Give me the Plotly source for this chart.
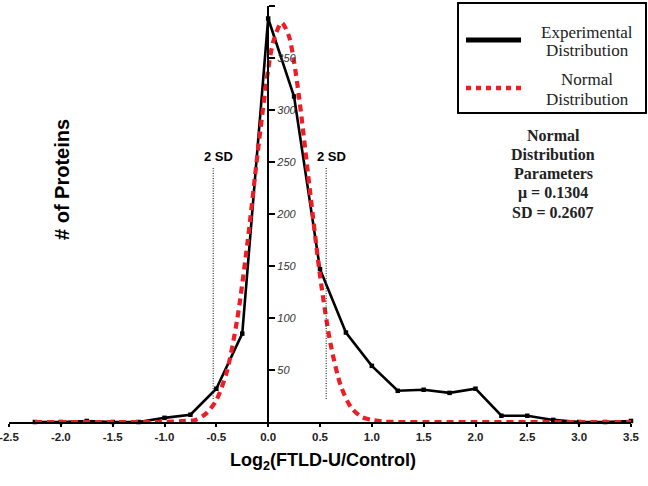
import plotly.graph_objects as go

# experimental distribution, bin centres every 0.25 log2 units
exp_x = [-2.25, -2.0, -1.75, -1.5, -1.25, -1.0, -0.75, -0.5, -0.25, 0.0, 0.25, 0.5,
         0.75, 1.0, 1.25, 1.5, 1.75, 2.0, 2.25, 2.5, 2.75, 3.0, 3.25, 3.5]
exp_counts = [0, 0, 1, 0, 0, 4, 7, 32, 85, 388, 313, 147,
              86, 54, 30, 31, 28, 32, 6, 6, 2, 0, 0, 1]

# fitted normal curve
norm_x = [-2.25, -1.5, -1.0, -0.8, -0.7, -0.6, -0.5, -0.4, -0.3, -0.2, -0.1, 0.0, 0.05,
          0.13, 0.2, 0.25, 0.3, 0.4, 0.5, 0.6, 0.7, 0.8, 0.9, 1.0, 1.1, 1.25, 2.0, 3.0, 3.5]
norm_counts = [0, 0, 0, 1, 2, 8, 21, 48, 98, 172, 260, 339, 366,
               384, 371, 346, 311, 225, 141, 76, 35, 14, 5, 2, 0.5, 0, 0, 0, 0]

mu = 0.1304
sd = 0.2607

# the two "2 SD" marker lines
sd_marks = [-0.53, 0.56]
sd_mark_top = 245
sd_mark_bottom = 22

x_ticks = [-2.5, -2.0, -1.5, -1.0, -0.5, 0.0, 0.5, 1.0, 1.5, 2.0, 2.5, 3.0, 3.5]
y_ticks = [50, 100, 150, 200, 250, 300, 350, 400]

W, H = 648, 486
L, R, T, B = 9, 17, 6, 64


def px(x):
    # pixel -> paper x
    return (x - L) / (W - L - R)


def py(y):
    # pixel -> paper y
    return (H - B - y) / (H - T - B)


fig = go.Figure()

fig.add_trace(go.Scatter(
    x=exp_x, y=exp_counts, mode='lines+markers',
    line=dict(color='black', width=2.6),
    marker=dict(symbol='square', size=4.5, color='black'),
    cliponaxis=False, showlegend=False))

fig.add_trace(go.Scatter(
    x=norm_x, y=norm_counts, mode='lines',
    line=dict(color='#ee1c24', width=4.2, dash='7px,5px', shape='spline', smoothing=0.8),
    cliponaxis=False, showlegend=False))

shapes = []
annotations = []

for xm in sd_marks:
    shapes.append(dict(type='line', xref='x', yref='y', x0=xm, x1=xm,
                       y0=sd_mark_bottom, y1=sd_mark_top,
                       line=dict(color='#333333', width=1.2, dash='1px,1.5px')))
    annotations.append(dict(x=xm + 0.05, y=sd_mark_top + 10, xref='x', yref='y',
                            text='<b>2 SD</b>', showarrow=False, yanchor='middle',
                            font=dict(family='Arial', size=13, color='black')))

# legend box drawn by hand
shapes.append(dict(type='rect', xref='paper', yref='paper',
                   x0=px(458), x1=px(646), y0=py(113), y1=py(3),
                   line=dict(color='black', width=2)))
shapes.append(dict(type='line', xref='paper', yref='paper',
                   x0=px(466), x1=px(521), y0=py(40), y1=py(40),
                   line=dict(color='black', width=5)))
shapes.append(dict(type='line', xref='paper', yref='paper',
                   x0=px(466), x1=px(523), y0=py(88), y1=py(88),
                   line=dict(color='#ee1c24', width=4.5, dash='5px,5px')))

serif = 'Liberation Serif'
legend_lines = [('Experimental', 32), ('Distribution', 51), ('Normal', 79), ('Distribution', 99)]
for txt, y in legend_lines:
    annotations.append(dict(x=px(587), y=py(y), xref='paper', yref='paper', text=txt,
                            showarrow=False, xanchor='center', yanchor='middle',
                            font=dict(family=serif, size=17, color='#222222')))

param_lines = ['Normal', 'Distribution', 'Parameters', f'μ = {mu}', f'SD = {sd}']
for i, txt in enumerate(param_lines):
    annotations.append(dict(x=px(553), y=py(135 + 19.3 * i), xref='paper', yref='paper',
                            text=f'<b>{txt}</b>', showarrow=False,
                            xanchor='center', yanchor='middle',
                            font=dict(family=serif, size=16, color='#222222')))

annotations.append(dict(x=px(62), y=py(180), xref='paper', yref='paper',
                        text='<b># of Proteins</b>', textangle=-90, showarrow=False,
                        xanchor='center', yanchor='middle',
                        font=dict(family='Arial', size=20, color='black')))
annotations.append(dict(x=px(323), y=py(461), xref='paper', yref='paper',
                        text='<b>Log<sub>2</sub>(FTLD-U/Control)</b>', showarrow=False,
                        xanchor='center', yanchor='middle',
                        font=dict(family='Arial', size=18, color='black')))

fig.update_layout(
    width=W, height=H,
    margin=dict(l=L, r=R, t=T, b=B, autoexpand=False),
    paper_bgcolor='white', plot_bgcolor='white',
    shapes=shapes, annotations=annotations,
    xaxis=dict(range=[-2.5, 3.5], tickvals=x_ticks,
               ticktext=[f'{v:.1f}' for v in x_ticks],
               showgrid=False, zeroline=False, showline=True,
               linecolor='black', linewidth=2, ticks='outside', ticklen=3,
               tickwidth=1.5, tickcolor='black', ticklabeloverflow='allow',
               tickfont=dict(family='Arial', size=11.5, color='#222222', weight='bold')),
    yaxis=dict(range=[0, 400], tickvals=y_ticks, showgrid=False, zeroline=False,
               anchor='free', position=2.5 / 6, side='right',
               showline=True, linecolor='black', linewidth=2,
               ticks='outside', ticklen=6, tickwidth=1.5, tickcolor='black',
               tickfont=dict(family='Arial', size=11, color='#333333', style='italic')),
)

# drop the default page margin so the figure sits at the window's top-left corner
fig.write_html("out.html", config={'displayModeBar': False},
               post_script="document.body.style.margin='0px';")
